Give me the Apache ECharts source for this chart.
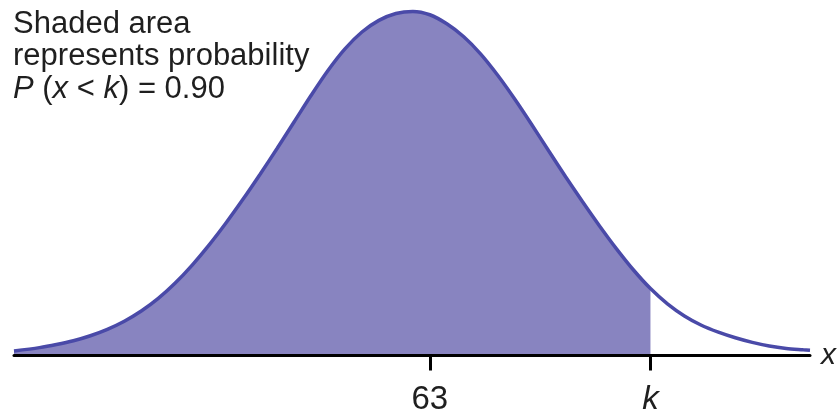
<!DOCTYPE html>
<html><head><meta charset="utf-8">
<script src="https://cdn.jsdelivr.net/npm/echarts@6/dist/echarts.min.js"></script>
<style>html,body{margin:0;padding:0;background:#fff}#c{width:839px;height:416px}</style>
</head><body><div id="c"></div>
<script>
// x values (variable x) and density heights
const xValues = [38.5, 40, 41, 42, 43, 44, 45, 46, 47, 48, 49, 50, 51, 52, 53, 54, 55, 56, 57, 58, 59, 60, 61, 62, 63, 64, 65, 66, 67, 68, 69, 70, 71, 72, 73, 74, 75, 76, 77, 78, 79, 80, 81, 82, 83, 84, 85, 85.4];
const densityValues = [0.00052, 0.00091, 0.00127, 0.00171, 0.00229, 0.00303, 0.00397, 0.00515, 0.00661, 0.00839, 0.01047, 0.01281, 0.01537, 0.01811, 0.02099, 0.02397, 0.02703, 0.03010, 0.03300, 0.03550, 0.03745, 0.03880, 0.03960, 0.03984, 0.03945, 0.03840, 0.03690, 0.03490, 0.03245, 0.02970, 0.02675, 0.02370, 0.02070, 0.01780, 0.01500, 0.01235, 0.00990, 0.00775, 0.00598, 0.00458, 0.00350, 0.00270, 0.00205, 0.00152, 0.00110, 0.00082, 0.00066, 0.00060];
const meanValue = 63;
const kValue = 76;
const tickValues = [63, 76];
const tickLabels = ['63', 'k'];
const axisName = 'x';
const noteLine1 = 'Shaded area';
const noteLine2 = 'represents probability';
const noteLine3 = '{i|P} ({i|x} < {i|k}) = 0.90';

const FONT = '"Liberation Sans", Arial, Helvetica, sans-serif';
const TEXT = '#1f1f1f';

const curve = xValues.map((x, i) => [x, densityValues[i]]);
const shaded = curve.filter(p => p[0] <= kValue);

const chart = echarts.init(document.getElementById('c'), null, {renderer: 'canvas'});
chart.setOption({
  animation: false,
  backgroundColor: '#ffffff',
  grid: {left: 14, right: 28, top: 10, bottom: 59, containLabel: false},
  xAxis: {
    type: 'value', min: 38.5, max: 85.4, z: 5,
    name: axisName, nameLocation: 'end', nameGap: 11,
    nameTextStyle: {fontFamily: FONT, fontSize: 30, fontStyle: 'italic', color: TEXT, verticalAlign: 'middle', align: 'left'},
    axisLine: {show: true, lineStyle: {color: '#000', width: 3}},
    axisTick: {show: true, customValues: tickValues, length: 15, lineStyle: {color: '#000', width: 3}},
    axisLabel: {
      show: true, customValues: tickValues, margin: 44, verticalAlign: 'middle',
      fontFamily: FONT, fontSize: 33, color: TEXT,
      formatter: v => {
        const idx = tickValues.indexOf(v);
        const t = idx >= 0 ? tickLabels[idx] : '';
        return t === 'k' ? '{i|k}' : t;
      },
      rich: {i: {fontFamily: FONT, fontSize: 33, fontStyle: 'italic', color: TEXT}}
    },
    splitLine: {show: false}
  },
  yAxis: {type: 'value', min: 0, max: 0.04, show: false, splitLine: {show: false}},
  series: [
    {
      type: 'line', data: shaded, smooth: 0.3, symbol: 'none', z: 2,
      lineStyle: {width: 0, opacity: 0},
      areaStyle: {color: '#8884c0', opacity: 1, origin: 'start'}
    },
    {
      type: 'line', data: curve, smooth: 0.3, symbol: 'none', z: 3,
      lineStyle: {color: '#4a4aa8', width: 3.5}
    }
  ],
  graphic: [
    {type: 'text', x: 13, y: 24.6, style: {text: noteLine1, fontFamily: FONT, fontSize: 31, fill: TEXT, verticalAlign: 'middle', align: 'left'}},
    {type: 'text', x: 13, y: 56.8, style: {text: noteLine2, fontFamily: FONT, fontSize: 31, fill: TEXT, verticalAlign: 'middle', align: 'left'}},
    {type: 'text', x: 13, y: 89.6, style: {text: noteLine3, fontFamily: FONT, fontSize: 31, fill: TEXT, verticalAlign: 'middle', align: 'left',
      rich: {i: {fontFamily: FONT, fontSize: 31, fontStyle: 'italic', fill: TEXT, color: TEXT}}}}
  ]
});
</script>
</body></html>
